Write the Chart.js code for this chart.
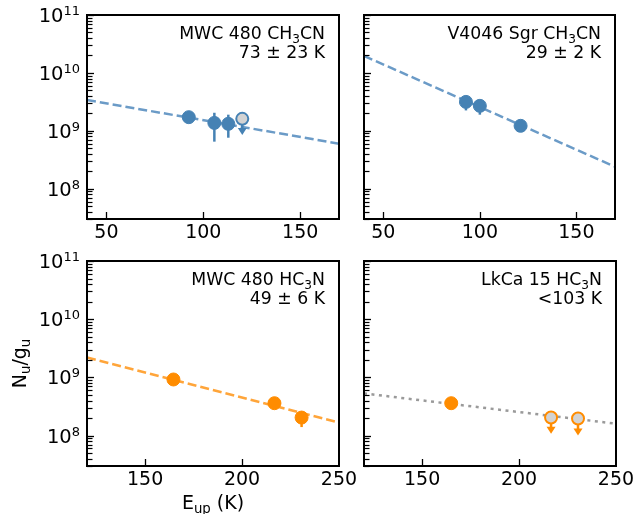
<!DOCTYPE html>
<html>
<head>
<meta charset="utf-8">
<script src="https://cdn.jsdelivr.net/npm/chart.js@4.4.0/dist/chart.umd.min.js"></script>
<style>
  body { margin: 0; background: #fff; }
  #fig { position: relative; width: 636px; height: 514px; overflow: hidden; background: #fff; }
  .panel { position: absolute; }
</style>
</head>
<body>
<div id="fig"></div>
<script>
// ---- values ----
// MWC 480 CH3CN
const mwcCh3cnE = [92.5, 105.7, 112.9];
const mwcCh3cnN = [1.72e9, 1.37e9, 1.32e9];
const mwcCh3cnLo = [1.45e9, 6.5e8, 7.6e8];
const mwcCh3cnHi = [2.0e9, 2.05e9, 1.9e9];
const mwcCh3cnLimE = [120.1];
const mwcCh3cnLimN = [1.61e9];
const mwcCh3cnLimTip = [8.5e8];
const mwcCh3cnFitE = [40, 170];
const mwcCh3cnFitN = [3.4e9, 6.0e8];

// V4046 Sgr CH3CN
const v4046E = [92.8, 100.0, 121.1];
const v4046N = [3.16e9, 2.7e9, 1.22e9];
const v4046Lo = [2.25e9, 1.9e9, 1.1e9];
const v4046Hi = [3.9e9, 3.4e9, 1.35e9];
const v4046FitE = [40, 170];
const v4046FitN = [1.96e10, 2.4e8];

// MWC 480 HC3N
const mwcHc3nE = [164.6, 216.7, 230.7];
const mwcHc3nN = [9.2e8, 3.6e8, 2.04e8];
const mwcHc3nLo = [8.3e8, 3.2e8, 1.4e8];
const mwcHc3nHi = [1.0e9, 4.0e8, 2.5e8];
const mwcHc3nFitE = [120, 250];
const mwcHc3nFitN = [2.2e9, 1.67e8];

// LkCa 15 HC3N
const lkcaE = [165.0];
const lkcaN = [3.6e8];
const lkcaLimE = [216.5, 230.4];
const lkcaLimN = [2.04e8, 1.97e8];
const lkcaLimTip = [1.08e8, 1.0e8];
const lkcaFitE = [120, 250];
const lkcaFitN = [5.3e8, 1.6e8];

// axis ticks
const xTicksTop = [50, 100, 150];
const xTicksBottom = [150, 200, 250];
const yTickExps = [8, 9, 10, 11];
const yMinorMult = [2, 3, 4, 5, 6, 7, 8, 9];
const yMin = 3e7, yMax = 1e11;

const BLUE = '#4682b4';
const BLUE_LINE = '#6b9bc7';
const ORANGE = '#ff8c00';
const ORANGE_LINE = '#ffa53a';
const GREY_LINE = '#9a9a9a';
const FONT = '"DejaVu Sans", sans-serif';

const pts = (xs, ys) => (xs || []).map((x, i) => ({ x, y: ys[i] }));

// draw a run of text pieces (normal / sub / sup) with given alignment
function drawRich(ctx, parts, x, y, size, align) {
  const pieces = parts.map(p => {
    const s = p.sub || p.sup ? size * 0.7 : size;
    ctx.font = `${s}px ${FONT}`;
    return { t: p.t, s, w: ctx.measureText(p.t).width, dy: p.sub ? size * 0.22 : (p.sup ? -size * 0.42 : 0) };
  });
  const total = pieces.reduce((a, p) => a + p.w, 0);
  let cx = align === 'right' ? x - total : (align === 'center' ? x - total / 2 : x);
  ctx.textAlign = 'left';
  ctx.textBaseline = 'alphabetic';
  pieces.forEach(p => {
    ctx.font = `${p.s}px ${FONT}`;
    ctx.fillText(p.t, cx, y + p.dy);
    cx += p.w;
  });
}

function decor(p) {
  return {
    id: 'decor',
    beforeDatasetDraw(chart, args) {
      const ctx = chart.ctx;
      const xs = chart.scales.x, ys = chart.scales.y;
      ctx.save();
      ctx.strokeStyle = p.color;
      ctx.fillStyle = p.color;
      ctx.lineWidth = 2.5;
      if (args.index === 0 && p.lo) {
        p.E.forEach((e, i) => {
          const x = xs.getPixelForValue(e);
          ctx.beginPath();
          ctx.moveTo(x, ys.getPixelForValue(p.lo[i]));
          ctx.lineTo(x, ys.getPixelForValue(p.hi[i]));
          ctx.stroke();
        });
      }
      if (args.index === 1 && p.limE) {
        p.limE.forEach((e, i) => {
          const x = xs.getPixelForValue(e);
          const y0 = ys.getPixelForValue(p.limN[i]);
          const y1 = ys.getPixelForValue(p.limTip[i]);
          ctx.beginPath();
          ctx.moveTo(x, y0);
          ctx.lineTo(x, y1 - 5);
          ctx.stroke();
          ctx.beginPath();
          ctx.moveTo(x - 4.5, y1 - 7);
          ctx.lineTo(x + 4.5, y1 - 7);
          ctx.lineTo(x, y1);
          ctx.closePath();
          ctx.fill();
        });
      }
      ctx.restore();
    },
    afterDraw(chart) {
      const ctx = chart.ctx;
      const a = chart.chartArea;
      const xs = chart.scales.x, ys = chart.scales.y;
      const left = Math.round(a.left);
      ctx.save();
      ctx.fillStyle = '#000';
      ctx.strokeStyle = '#000';
      // inward ticks
      ctx.lineWidth = 1.3;
      p.xTicks.forEach(v => {
        const x = Math.round(xs.getPixelForValue(v)) + 0.5;
        if (x < a.right - 1) {
          ctx.beginPath(); ctx.moveTo(x, a.bottom); ctx.lineTo(x, a.bottom - 7); ctx.stroke();
        }
      });
      yTickExps.forEach(ex => {
        const y = Math.round(ys.getPixelForValue(Math.pow(10, ex))) + 0.5;
        ctx.beginPath(); ctx.moveTo(left, y); ctx.lineTo(left + 7, y); ctx.stroke();
      });
      ctx.lineWidth = 1.2;
      [7, 8, 9, 10].forEach(ex => {
        yMinorMult.forEach(m => {
          const v = m * Math.pow(10, ex);
          if (v < yMin || v > yMax) return;
          const y = Math.round(ys.getPixelForValue(v)) + 0.5;
          ctx.beginPath(); ctx.moveTo(left, y); ctx.lineTo(left + 5.5, y); ctx.stroke();
        });
      });
      // frame
      ctx.lineWidth = 2;
      ctx.strokeRect(a.left, a.top, a.right - a.left, a.bottom - a.top);
      // x tick labels
      ctx.font = `19px ${FONT}`;
      ctx.textAlign = 'center';
      ctx.textBaseline = 'alphabetic';
      p.xTicks.forEach(v => ctx.fillText(String(v), xs.getPixelForValue(v), a.bottom + 19));
      // y tick labels
      if (p.yLabels) {
        yTickExps.forEach(ex => {
          const y = ys.getPixelForValue(Math.pow(10, ex));
          ctx.font = `13px ${FONT}`;
          const we = ctx.measureText(String(ex)).width;
          ctx.textAlign = 'right';
          ctx.fillText(String(ex), a.left - 7, y);
          ctx.font = `19.5px ${FONT}`;
          ctx.fillText('10', a.left - 7 - we, y + 7);
        });
      }
      // annotation
      drawRich(ctx, p.title, a.right - 14, a.top + 24, 17.3, 'right');
      drawRich(ctx, [{ t: p.temp }], a.right - 14, a.top + 43, 17.3, 'right');
      // axis titles
      if (p.axisTitles) {
        drawRich(ctx, [{ t: 'E' }, { t: 'up', sub: true }, { t: ' (K)' }], (a.left + a.right) / 2, a.bottom + 43, 19, 'center');
        ctx.save();
        ctx.translate(26, (a.top + a.bottom) / 2);
        ctx.rotate(-Math.PI / 2);
        drawRich(ctx, [{ t: 'N' }, { t: 'u', sub: true }, { t: '/g' }, { t: 'u', sub: true }], 0, 0, 19, 'center');
        ctx.restore();
      }
      ctx.restore();
    }
  };
}

function makePanel(p) {
  const fig = document.getElementById('fig');
  const wrap = document.createElement('div');
  wrap.className = 'panel';
  const W = (p.box.r - p.box.l) + 87 + 25;
  const H = (p.box.b - p.box.t) + 15 + 48;
  wrap.style.left = (p.box.l - 87) + 'px';
  wrap.style.top = (p.box.t - 15) + 'px';
  wrap.style.width = W + 'px';
  wrap.style.height = H + 'px';
  const canvas = document.createElement('canvas');
  canvas.width = W;
  canvas.height = H;
  wrap.appendChild(canvas);
  fig.appendChild(wrap);

  new Chart(canvas, {
    type: 'scatter',
    data: {
      datasets: [
        { data: pts(p.E, p.N), pointRadius: 6.5, pointHoverRadius: 6.5, backgroundColor: p.color, borderColor: p.color, borderWidth: 1 },
        { data: pts(p.limE, p.limN), pointRadius: 6, pointHoverRadius: 6, backgroundColor: '#d3d3d3', borderColor: p.color, borderWidth: 2 },
        { data: pts(p.fitE, p.fitN), showLine: true, pointRadius: 0, borderColor: p.lineColor, borderWidth: 2.5, borderDash: p.dash, tension: 0 },
      ],
    },
    options: {
      responsive: false,
      animation: false,
      devicePixelRatio: 1,
      layout: { padding: { left: 0, top: 15, right: 25, bottom: 0 } },
      plugins: { legend: { display: false }, tooltip: { enabled: false } },
      scales: {
        x: {
          type: 'linear', min: p.xMin, max: p.xMax,
          grid: { display: false, drawTicks: false },
          border: { display: false },
          ticks: { display: false },
          afterFit: (s) => { s.height = 48; s.paddingLeft = 0; s.paddingRight = 0; },
        },
        y: {
          type: 'logarithmic', min: yMin, max: yMax,
          grid: { display: false, drawTicks: false },
          border: { display: false },
          ticks: { display: false },
          afterFit: (s) => { s.width = 87; s.paddingTop = 0; s.paddingBottom = 0; },
        },
      },
    },
    plugins: [decor(p)],
  });
}

makePanel({
  box: { l: 87, t: 15, r: 339, b: 219 }, xMin: 40, xMax: 170, xTicks: xTicksTop, yLabels: true,
  E: mwcCh3cnE, N: mwcCh3cnN, lo: mwcCh3cnLo, hi: mwcCh3cnHi,
  limE: mwcCh3cnLimE, limN: mwcCh3cnLimN, limTip: mwcCh3cnLimTip,
  fitE: mwcCh3cnFitE, fitN: mwcCh3cnFitN,
  color: BLUE, lineColor: BLUE_LINE, dash: [9, 4],
  title: [{ t: 'MWC 480 CH' }, { t: '3', sub: true }, { t: 'CN' }], temp: '73 ± 23 K',
});
makePanel({
  box: { l: 364, t: 15, r: 615, b: 219 }, xMin: 40, xMax: 170, xTicks: xTicksTop, yLabels: false,
  E: v4046E, N: v4046N, lo: v4046Lo, hi: v4046Hi,
  fitE: v4046FitE, fitN: v4046FitN,
  color: BLUE, lineColor: BLUE_LINE, dash: [9, 4],
  title: [{ t: 'V4046 Sgr CH' }, { t: '3', sub: true }, { t: 'CN' }], temp: '29 ± 2 K',
});
makePanel({
  box: { l: 87, t: 261, r: 339, b: 466 }, xMin: 120, xMax: 250, xTicks: xTicksBottom, yLabels: true, axisTitles: true,
  E: mwcHc3nE, N: mwcHc3nN, lo: mwcHc3nLo, hi: mwcHc3nHi,
  fitE: mwcHc3nFitE, fitN: mwcHc3nFitN,
  color: ORANGE, lineColor: ORANGE_LINE, dash: [9, 4],
  title: [{ t: 'MWC 480 HC' }, { t: '3', sub: true }, { t: 'N' }], temp: '49 ± 6 K',
});
makePanel({
  box: { l: 364, t: 261, r: 616, b: 466 }, xMin: 120, xMax: 250, xTicks: xTicksBottom, yLabels: false,
  E: lkcaE, N: lkcaN,
  limE: lkcaLimE, limN: lkcaLimN, limTip: lkcaLimTip,
  fitE: lkcaFitE, fitN: lkcaFitN,
  color: ORANGE, lineColor: GREY_LINE, dash: [3, 4.5],
  title: [{ t: 'LkCa 15 HC' }, { t: '3', sub: true }, { t: 'N' }], temp: '<103 K',
});
</script>
</body>
</html>
